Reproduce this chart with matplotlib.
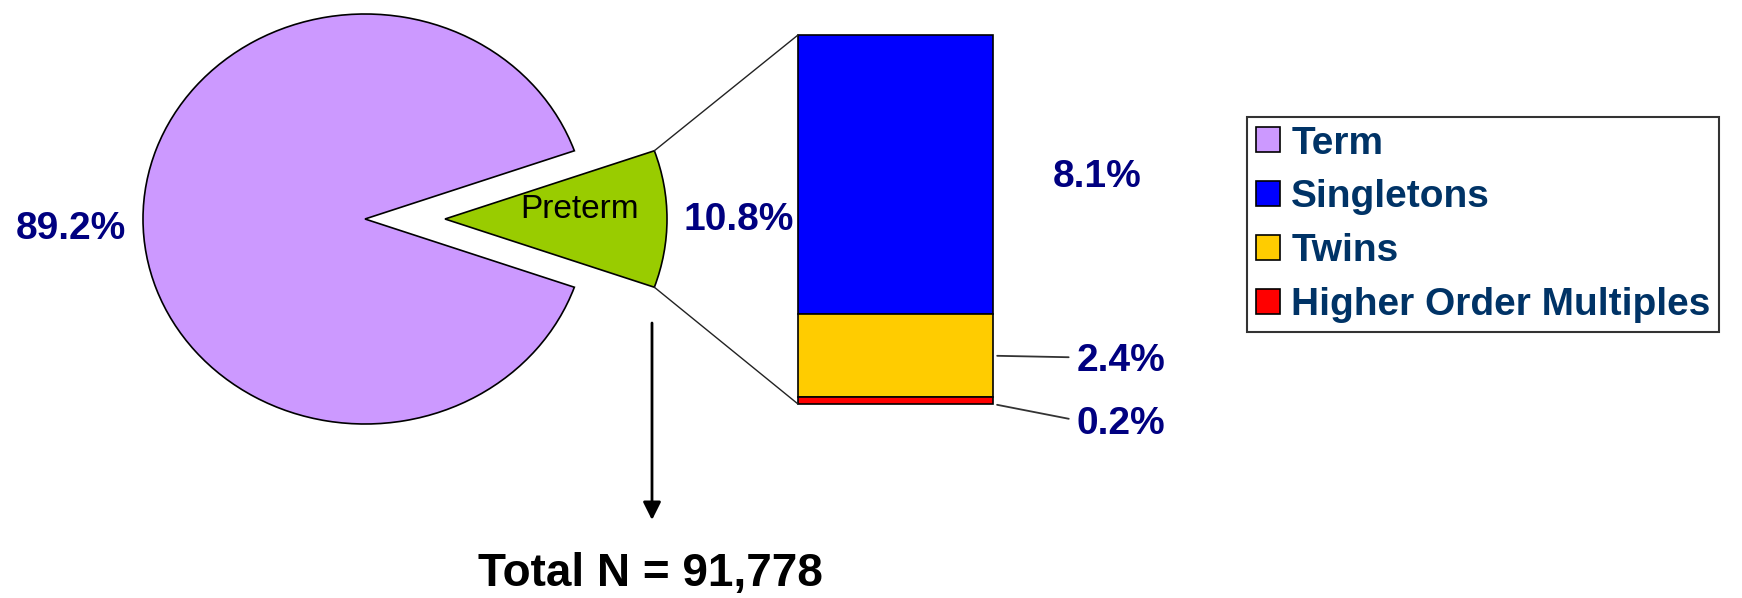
import matplotlib
matplotlib.use("Agg")
import matplotlib.pyplot as plt
from matplotlib.patches import Patch, ConnectionPatch, FancyArrowPatch
import numpy as np

# --- Data ---
pie_labels = ["Term", "Preterm"]
pie_values = [89.2, 10.8]
pie_colors = ["#CC99FF", "#99CC00"]

bar_labels = ["Singletons", "Twins", "Higher Order Multiples"]
bar_values = [8.1, 2.4, 0.2]
bar_colors = ["#0000FF", "#FFCC00", "#FF0000"]

total_n = 91778

# --- Layout (pixels) ---
W, H = 1742, 598
NAVY = "#000080"
LEG_TXT = "#003366"
plt.rcParams["font.family"] = ["Liberation Sans", "DejaVu Sans"]

fig = plt.figure(figsize=(W / 100, H / 100), dpi=100)


def px(x, y):
    # pixel position from top-left -> figure fraction
    return x / W, 1 - y / H


# --- Pie (slightly wider than tall) ---
rx, ry = 222, 205
s = rx / ry
pax = fig.add_axes([0, 0, 1, 1])
cx, cy = 365, (H - 219) * s
start = pie_values[1] / sum(pie_values) * 180
wedges, _ = pax.pie(pie_values, explode=[0, 80], colors=pie_colors,
                    startangle=start, center=(cx, cy), radius=rx,
                    wedgeprops=dict(edgecolor="black", linewidth=1.2))
pax.set_aspect("auto")
pax.set_xlim(0, W)
pax.set_ylim(0, H * s)
pax.axis("off")

# corners of the preterm wedge
pw = wedges[1]
th1, th2 = np.radians(pw.theta1), np.radians(pw.theta2)
pcx, pcy = pw.center
upper = (pcx + rx * np.cos(th2), pcy + rx * np.sin(th2))
lower = (pcx + rx * np.cos(th1), pcy + rx * np.sin(th1))
if upper[1] < lower[1]:
    upper, lower = lower, upper

# --- Stacked bar ---
bx0, bx1, by0, by1 = 798, 993, 35, 404
bax = fig.add_axes([bx0 / W, 1 - by1 / H, (bx1 - bx0) / W, (by1 - by0) / H])
bottom = 0
for v, c in zip(bar_values, bar_colors):
    bax.bar(0, v, bottom=bottom, width=1, color=c, edgecolor="black",
            linewidth=1.2, clip_on=False)
    bottom += v
total_bar = sum(bar_values)
bax.set_xlim(-0.5, 0.5)
bax.set_ylim(total_bar, 0)
bax.axis("off")

# connector lines pie -> bar
for xyA, xyB in [(upper, (-0.5, 0)), (lower, (-0.5, total_bar))]:
    con = ConnectionPatch(xyA=xyA, coordsA=pax.transData, xyB=xyB,
                          coordsB=bax.transData, color="#222222", lw=1.0)
    fig.add_artist(con)

# --- Labels ---
pct = dict(fontsize=28, fontweight="bold", color=NAVY)
fig.text(*px(126, 229), f"{pie_values[0]:.1f}%", ha="right", va="center", **pct)
fig.text(*px(683, 220), f"{pie_values[1]:.1f}%", ha="left", va="center", **pct)
fig.text(*px(580, 210), pie_labels[1], ha="center", va="center",
         fontsize=24, color="black")

fig.text(*px(1053, 177), f"{bar_values[0]:.1f}%", ha="left", va="center", **pct)
lead = dict(arrowstyle="-", color="#333333", lw=1.3, shrinkA=4, shrinkB=3,
            relpos=(0, 0.6))
bax.annotate(f"{bar_values[1]:.1f}%", xy=(0.5, bar_values[0] + bar_values[1] / 2),
             xycoords="data", xytext=(1077, H - 361), textcoords="figure pixels",
             ha="left", va="center", annotation_clip=False,
             arrowprops=lead, **pct)
bax.annotate(f"{bar_values[2]:.1f}%", xy=(0.5, total_bar),
             xycoords="data", xytext=(1077, H - 424), textcoords="figure pixels",
             ha="left", va="center", annotation_clip=False,
             arrowprops=lead, **pct)

# arrow down to total
fig.add_artist(FancyArrowPatch(
    (652, H - 323), (652, H - 520), transform=None,
    arrowstyle="-|>", mutation_scale=27, lw=2, color="black",
    shrinkA=0, shrinkB=0))
fig.text(*px(650, 586), f"Total N = {total_n:,}", ha="center", va="baseline",
         fontsize=33, fontweight="bold", color="black")

# --- Legend ---
handles = [Patch(facecolor=c, edgecolor="black", linewidth=1.2)
           for c in [pie_colors[0]] + bar_colors]
labels = [pie_labels[0]] + bar_labels
leg = fig.legend(handles, labels, loc="upper left",
                 bbox_to_anchor=px(1247, 117), bbox_transform=fig.transFigure,
                 borderaxespad=0, frameon=True, fancybox=False,
                 edgecolor="black", labelcolor=LEG_TXT,
                 prop=dict(size=28, weight="bold"),
                 handlelength=0.62, handleheight=0.62, handletextpad=0.3,
                 labelspacing=0.46, borderpad=0.22)
leg.get_frame().set_linewidth(1.5)

fig.savefig("out.png", dpi=100)
